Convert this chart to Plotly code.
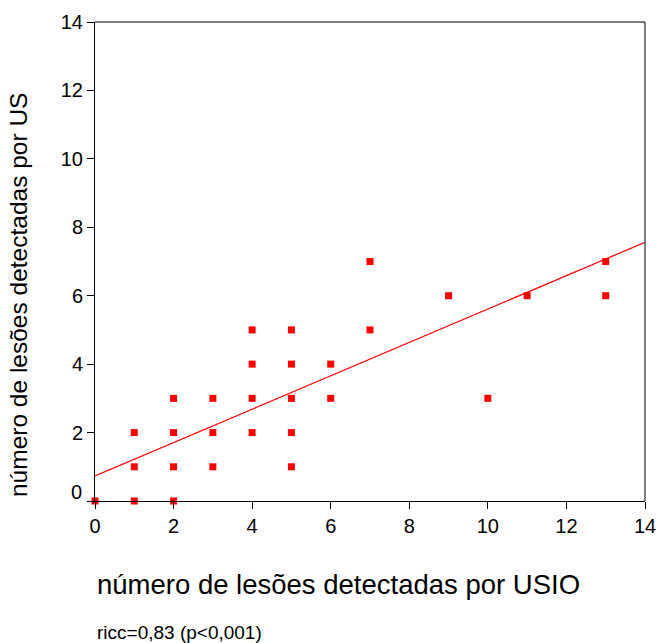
import plotly.graph_objects as go

# Data
usio = [0, 1, 2, 1, 1, 2, 2, 2, 3, 3, 3, 4, 4, 4, 4, 5, 5, 5, 5, 5, 6, 6, 7, 7, 9, 10, 11, 13, 13]
us   = [0, 0, 0, 1, 2, 1, 2, 3, 1, 2, 3, 2, 3, 4, 5, 1, 2, 3, 4, 5, 3, 4, 5, 7, 6, 3, 6, 6, 7]

# Fitted line
fit_intercept = 0.73
fit_slope = 0.488

axis_min = 0
axis_max = 14
tick_vals = [0, 2, 4, 6, 8, 10, 12, 14]
y_tick_text = ["", "2", "4", "6", "8", "10", "12", "14"]

x_title = "número de lesões detectadas por USIO"
y_title = "número de lesões detectadas por US"
note = "ricc=0,83 (p<0,001)"

FONT = "Liberation Sans, Arial, sans-serif"

fig = go.Figure()

line_x = [axis_min, axis_max]
line_y = [fit_intercept + fit_slope * v for v in line_x]
fig.add_trace(go.Scatter(x=line_x, y=line_y, mode="lines",
                         line=dict(color="#ff0000", width=1.2),
                         hoverinfo="skip", showlegend=False))

fig.add_trace(go.Scatter(x=usio, y=us, mode="markers",
                         marker=dict(symbol="square", size=7, color="#ff0000",
                                     line=dict(width=0)),
                         cliponaxis=False, showlegend=False))

fig.update_xaxes(range=[axis_min, axis_max], tickvals=tick_vals, automargin=False,
                 showgrid=False, zeroline=False, showline=True,
                 linecolor="black", linewidth=1, ticks="outside", ticklen=7,
                 tickcolor="black", tickfont=dict(family=FONT, size=20, color="black"))
fig.update_yaxes(range=[axis_min, axis_max], tickvals=tick_vals, ticktext=y_tick_text,
                 automargin=False,
                 showgrid=False, zeroline=False, showline=True,
                 linecolor="black", linewidth=1, ticks="outside", ticklen=7,
                 tickcolor="black", tickfont=dict(family=FONT, size=20, color="black"))

# top and right frame lines
fig.add_shape(type="line", xref="paper", yref="paper", x0=0, x1=1, y0=1, y1=1,
              line=dict(color="#555555", width=1.5))
fig.add_shape(type="line", xref="paper", yref="paper", x0=1, x1=1, y0=0, y1=1,
              line=dict(color="#555555", width=1.5))

# "0" label on y axis drawn slightly above the tick, as in the reference
fig.add_annotation(x=0, xref="paper", y=0, yref="y", text="0", showarrow=False,
                   xanchor="right", yanchor="middle", xshift=-11, yshift=9,
                   font=dict(family=FONT, size=20, color="black"))

fig.add_annotation(x=0, xref="paper", y=-0.175, yref="paper", text=x_title,
                   showarrow=False, xanchor="left", yanchor="middle",
                   font=dict(family=FONT, size=27.5, color="black"))
fig.add_annotation(x=-0.14, xref="paper", y=0.43, yref="paper", text=y_title,
                   showarrow=False, textangle=-90, xanchor="center", yanchor="middle",
                   font=dict(family=FONT, size=24.5, color="black"))
fig.add_annotation(x=0, xref="paper", y=-0.2735, yref="paper", text=note,
                   showarrow=False, xanchor="left", yanchor="middle",
                   font=dict(family=FONT, size=19, color="black"))

fig.update_layout(width=660, height=643,
                  margin=dict(l=95, r=15, t=22, b=142, autoexpand=False),
                  paper_bgcolor="white", plot_bgcolor="white",
                  showlegend=False)

fig.write_html("out.html",
               config={"displayModeBar": False},
               post_script="document.body.style.margin='0';document.body.style.overflow='hidden';")
